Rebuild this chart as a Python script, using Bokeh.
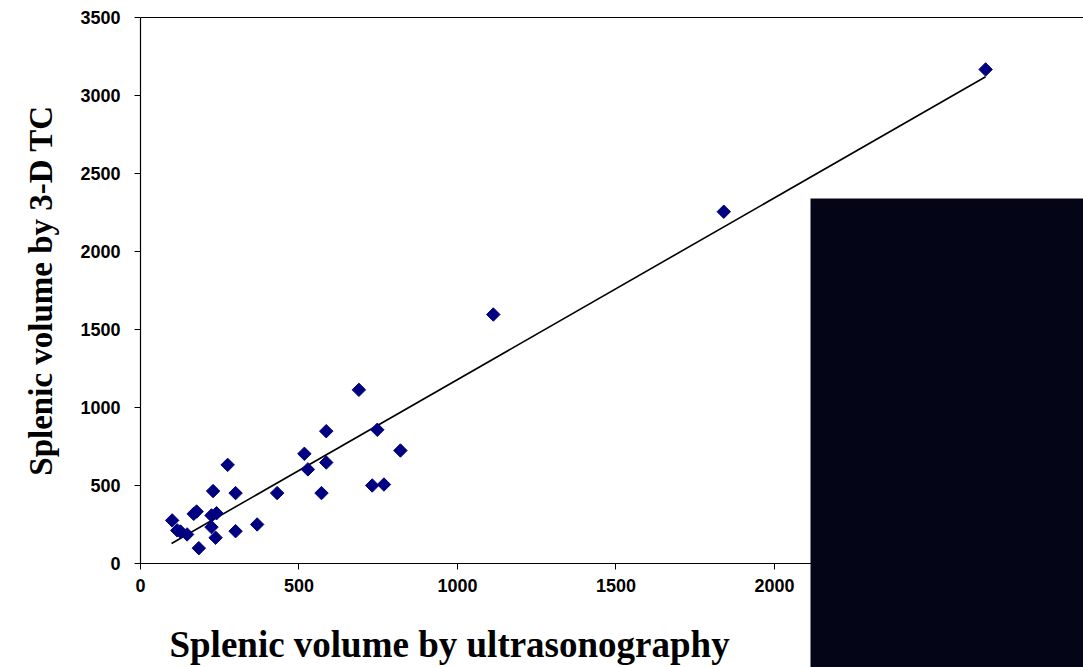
import math
from bokeh.plotting import figure
from bokeh.models import BoxAnnotation, FixedTicker, Label, LinearAxis
from bokeh.embed import file_html
from bokeh.resources import INLINE

# Splenic volume: ultrasonography (x) vs 3-D TC (y)
us_volume = [689, 586, 747, 517, 820, 528, 586, 275, 731, 768,
             229, 300, 431, 571, 100, 168, 177, 224, 240, 116,
             126, 147, 224, 368, 300, 237, 184, 1113, 1840, 2666]
tc_volume = [1113, 848, 857, 703, 724, 603, 647, 632, 500, 506,
             464, 451, 451, 451, 276, 318, 333, 308, 322, 212,
             205, 186, 233, 250, 207, 165, 98, 1596, 2255, 3167]

# regression trendline
trend_x = [98, 2666]
trend_y = [128, 3120]

x_ticks = [0, 500, 1000, 1500, 2000, 2500]
y_ticks = [0, 500, 1000, 1500, 2000, 2500, 3000, 3500]

x_title = "Splenic volume by ultrasonography"
y_title = "Splenic volume by 3-D TC"

X_END = 2974.8
Y_TOP = 3500

p = figure(width=1083, height=667, output_backend="svg", toolbar_location=None,
           x_range=(-441.6, X_END), y_range=(-667, 3609),
           min_border_left=0, min_border_right=0, min_border_top=0, min_border_bottom=0)

p.grid.visible = False
p.outline_line_color = None
p.background_fill_color = "white"
p.border_fill_color = "white"

p.line(trend_x, trend_y, line_color="black", line_width=1.6)
p.scatter(us_volume, tc_volume, marker="square", angle=math.pi / 4, size=9.5,
          fill_color="#000080", line_color="#000080")

for ax in (p.xaxis[0], p.yaxis[0]):
    ax.fixed_location = 0
    ax.major_label_text_font = "Liberation Sans"
    ax.major_label_text_font_style = "bold"
    ax.major_label_text_font_size = "18px"
    ax.major_label_text_color = "black"
    ax.axis_line_color = "black"
    ax.axis_line_width = 1.2
    ax.major_tick_line_color = "black"
    ax.major_tick_out = 6
    ax.major_tick_in = 0
    ax.minor_tick_line_color = None

p.xaxis.ticker = FixedTicker(ticks=x_ticks)
p.yaxis.ticker = FixedTicker(ticks=y_ticks)
p.xaxis.bounds = (0, X_END)
p.yaxis.bounds = (0, Y_TOP)
p.xaxis.major_label_standoff = 10
p.yaxis.major_label_standoff = 14

# top border of the plot area (an axis line with no ticks or labels)
top_axis = LinearAxis(fixed_location=Y_TOP, bounds=(0, X_END),
                      ticker=FixedTicker(ticks=[], minor_ticks=[]),
                      major_tick_line_color=None, minor_tick_line_color=None,
                      axis_line_color="black", axis_line_width=1)
p.add_layout(top_axis, "above")

p.add_layout(Label(x=975, y=-520, text=x_title, text_align="center", text_baseline="middle",
                   text_font="Liberation Serif", text_font_style="bold",
                   text_font_size="37px", text_color="black"))
p.add_layout(Label(x=-315, y=1750, text=y_title, angle=math.pi / 2,
                   text_align="center", text_baseline="middle",
                   text_font="Liberation Serif", text_font_style="bold",
                   text_font_size="33px", text_color="black"))

# dark occluding block present in the reference picture
p.add_layout(BoxAnnotation(left=810, right=1083, top=198, bottom=667,
                           left_units="canvas", right_units="canvas",
                           top_units="canvas", bottom_units="canvas",
                           fill_color="#050518", fill_alpha=1.0,
                           line_color=None, level="overlay"))

open("out.html", "w").write(file_html(p, INLINE))
